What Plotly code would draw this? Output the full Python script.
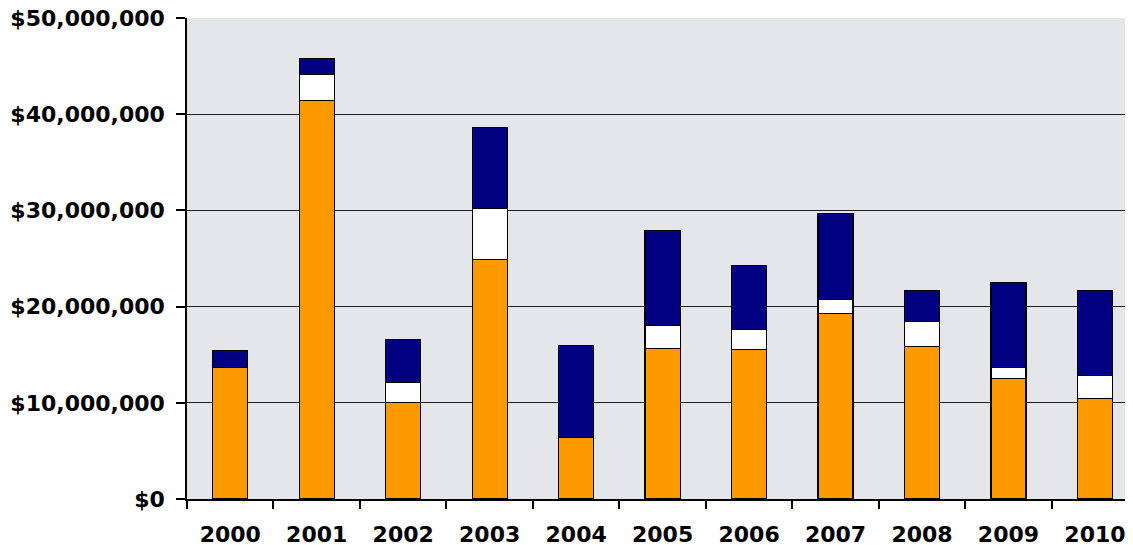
"""Stacked yearly dollar amounts, 2000-2010."""

import plotly.graph_objects as go

years = ["2000", "2001", "2002", "2003", "2004", "2005",
         "2006", "2007", "2008", "2009", "2010"]

# stacked segments, bottom to top (dollars)
orange_vals = [13.7e6, 41.4e6, 10.06e6, 24.86e6, 6.42e6, 15.61e6,
               15.57e6, 19.25e6, 15.85e6, 12.56e6, 10.42e6]
white_vals = [0, 2.7e6, 2.08e6, 5.37e6, 0, 2.43e6,
              2.08e6, 1.45e6, 2.63e6, 1.14e6, 2.39e6]
navy_vals = [1.74e6, 1.65e6, 4.4e6, 8.42e6, 9.54e6, 9.87e6,
             6.62e6, 9.01e6, 3.19e6, 8.84e6, 8.86e6]

y_ticks = [0, 10e6, 20e6, 30e6, 40e6, 50e6]

FONT = "DejaVu Sans"

fig = go.Figure()
for vals, color in [(orange_vals, "#FF9900"), (white_vals, "#FFFFFF"), (navy_vals, "#000080")]:
    fig.add_trace(
        go.Bar(
            x=years, y=vals, width=0.405,
            marker=dict(color=color, line=dict(color="#000000", width=1.2)),
            showlegend=False,
        )
    )

# page body adds ~8px on top/left, margins are shifted to compensate
fig.update_layout(
    barmode="stack",
    width=1133, height=545,
    margin=dict(l=179, r=8, t=10, b=54),
    paper_bgcolor="#FFFFFF",
    plot_bgcolor="#E4E6E9",
    font=dict(family=FONT, size=22, color="#000000"),
    xaxis=dict(
        type="category",
        range=[-0.5, 10.44],
        tickson="boundaries",
        automargin=False,
        ticks="outside", ticklen=8, tickcolor="#000000", tickwidth=1.5,
        showline=True, linecolor="#000000", linewidth=1.5,
        showgrid=False,
        tickfont=dict(family=FONT, size=22, color="#000000", weight="bold"),
        ticklabelstandoff=15,
    ),
    yaxis=dict(
        range=[0, 50e6],
        tickvals=y_ticks,
        tickformat="$,.0f",
        automargin=False,
        ticklabeloverflow="allow",
        ticks="outside", ticklen=9, tickcolor="#000000", tickwidth=1.5,
        showline=True, linecolor="#000000", linewidth=1.5,
        showgrid=True, gridcolor="#202020", gridwidth=1.2,
        zeroline=False,
        tickfont=dict(family=FONT, size=22, color="#000000", weight="bold"),
        ticklabelstandoff=7,
    ),
)

fig.write_html("out.html")
